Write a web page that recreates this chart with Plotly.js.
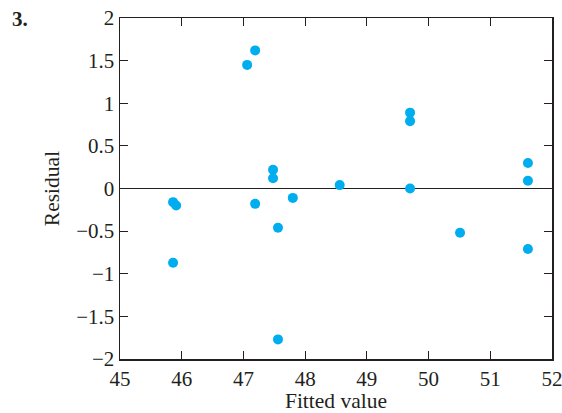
<!DOCTYPE html>
<html>
<head>
<meta charset="utf-8">
<script src="https://cdn.plot.ly/plotly-3.0.1.min.js"></script>
<style>html,body{margin:0;padding:0;background:#fff;}#chart{width:562px;height:413px;}</style>
</head>
<body>
<div id="chart"></div>
<script>
const fittedValues = [47.19, 47.06, 47.48, 47.48, 47.19, 47.80, 47.56, 47.56, 48.56, 49.70, 49.70, 49.70, 50.51, 51.61, 51.61, 51.61, 45.86, 45.91, 45.86];
const residuals    = [1.62, 1.45, 0.22, 0.12, -0.18, -0.11, -0.46, -1.77, 0.04, 0.89, 0.79, 0.00, -0.52, 0.30, 0.09, -0.71, -0.16, -0.20, -0.87];
const xTicks = [45, 46, 47, 48, 49, 50, 51, 52];
const yTicks = [-2, -1.5, -1, -0.5, 0, 0.5, 1, 1.5, 2];
const yTickText = ['\u22122', '\u22121.5', '\u22121', '\u22120.5', '0', '0.5', '1', '1.5', '2'];

const tickFont = {family: 'Liberation Serif', size: 21, color: '#231f20'};
const titleFont = {family: 'Liberation Serif', size: 21.5, color: '#231f20'};

const data = [{
  type: 'scatter', mode: 'markers',
  x: fittedValues, y: residuals,
  marker: {color: '#00aeef', size: 10},
  hoverinfo: 'skip', showlegend: false
}];

const layout = {
  width: 562, height: 413,
  margin: {l: 120, r: 10, t: 18, b: 54},
  paper_bgcolor: '#fff', plot_bgcolor: '#fff',
  font: tickFont,
  xaxis: {
    range: [45, 52], tickvals: xTicks, ticktext: xTicks.map(String),
    ticks: 'inside', ticklen: 8, tickcolor: '#231f20', tickwidth: 1.2,
    ticklabeloverflow: 'allow',
    showline: true, linecolor: '#231f20', linewidth: 1.5, mirror: 'ticks',
    showgrid: false, zeroline: false,
    tickfont: tickFont,
    title: {text: 'Fitted value', font: titleFont, standoff: 2}
  },
  yaxis: {
    range: [-2, 2], tickvals: yTicks, ticktext: yTickText,
    ticks: 'inside', ticklen: 8, tickcolor: '#231f20', tickwidth: 1.2,
    ticklabeloverflow: 'allow',
    showline: true, linecolor: '#231f20', linewidth: 1.5, mirror: 'ticks',
    showgrid: false, zeroline: true, zerolinecolor: '#231f20', zerolinewidth: 1.3,
    tickfont: tickFont,
    title: {text: 'Residual', font: titleFont, standoff: 10}
  },
  annotations: [{
    text: '<b>3.</b>', xref: 'paper', yref: 'paper', x: -0.255, y: 0.997,
    xanchor: 'left', yanchor: 'middle', showarrow: false,
    font: {family: 'Liberation Serif', size: 21, color: '#231f20'}
  }]
};

Plotly.newPlot('chart', data, layout, {displayModeBar: false, staticPlot: true});
</script>
</body>
</html>
